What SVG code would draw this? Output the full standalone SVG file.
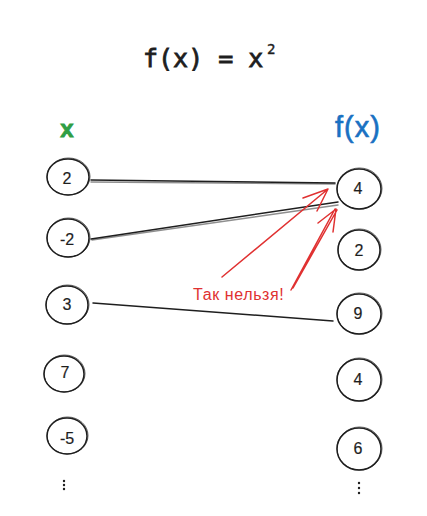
<svg xmlns="http://www.w3.org/2000/svg" width="427" height="516" viewBox="0 0 427 516">
<defs>
<style>
.c{fill:none;stroke:#1e1e1e;stroke-width:1.5}
.c2{fill:none;stroke:#1e1e1e;stroke-width:1;opacity:0.7}
.n{font-family:"Liberation Sans",Arial,sans-serif;font-size:16px;fill:#1e1e1e;stroke:#1e1e1e;stroke-width:0.2;text-anchor:middle;dominant-baseline:central}
.l{fill:none;stroke:#1e1e1e;stroke-width:1.5;stroke-linecap:round}
.r{fill:none;stroke:#e03131;stroke-width:1.5;stroke-linecap:round;stroke-linejoin:round}
.dot{fill:#1e1e1e}
</style>
</defs>
<rect width="427" height="516" fill="#ffffff"/>
<g id="title">
<text x="143" y="67" font-family="DejaVu Sans Mono,monospace" font-size="25" fill="#1e1e1e" stroke="#1e1e1e" stroke-width="0.8">f(x) = x</text>
<text x="267" y="54" font-family="DejaVu Sans Mono,monospace" font-size="14" fill="#1e1e1e" stroke="#1e1e1e" stroke-width="0.4">2</text>
</g>
<g id="label-x"><text x="67" y="128" font-family="Liberation Sans,Arial,sans-serif" font-size="24" fill="#2f9e44" stroke="#2f9e44" stroke-width="0.8" text-anchor="middle" dominant-baseline="central" font-weight="bold">x</text></g>
<g id="label-fx"><text x="358" y="127" font-family="Liberation Sans,Arial,sans-serif" font-size="29" fill="#1971c2" stroke="#1971c2" stroke-width="0.6" letter-spacing="1" text-anchor="middle" dominant-baseline="central">f(x)</text></g>
<g id="connectors">
<path class="l" d="M91 180 L335 183"/>
<path class="l" d="M91 182 L335 184" opacity="0.5"/>
<path class="l" d="M91 239 L338 202"/>
<path class="l" d="M92 240 L338 205" opacity="0.5"/>
<path class="l" d="M93 303 L333 321"/>
<path class="r" d="M222 277 L328 189 M303 198 L328 189 L317 211"/>
<path class="r" d="M291 290 L335 209 M293 288 L337 210 M318 223 L336 209 L333 232"/>
</g>
<g id="note"><text x="193" y="300" font-family="Liberation Sans,Arial,sans-serif" font-size="16" fill="#e03131" letter-spacing="0.6">Так нельзя!</text></g>
<g id="l2"><ellipse class="c" cx="68" cy="177" rx="21" ry="18"/><ellipse class="c2" cx="68.5" cy="176.5" rx="21.5" ry="18.5"/><text class="n" x="67" y="178">2</text></g>
<g id="lm2"><ellipse class="c" cx="68" cy="238" rx="21" ry="19"/><ellipse class="c2" cx="68.5" cy="237.5" rx="21.5" ry="19.5"/><text class="n" x="67" y="239">-2</text></g>
<g id="l3"><ellipse class="c" cx="67" cy="305" rx="21" ry="19"/><ellipse class="c2" cx="67.5" cy="304.5" rx="21.5" ry="19.5"/><text class="n" x="67" y="304">3</text></g>
<g id="l7"><ellipse class="c" cx="64" cy="374" rx="20" ry="18"/><ellipse class="c2" cx="64.5" cy="373.5" rx="20.5" ry="18.5"/><text class="n" x="65" y="372">7</text></g>
<g id="lm5"><ellipse class="c" cx="67" cy="436" rx="20" ry="18"/><ellipse class="c2" cx="67.5" cy="435.5" rx="20.5" ry="18.5"/><text class="n" x="67" y="438">-5</text></g>
<g id="ldots"><circle class="dot" cx="64" cy="481" r="1.2"/><circle class="dot" cx="64" cy="485" r="1.2"/><circle class="dot" cx="64" cy="489" r="1.2"/></g>
<g id="r4"><ellipse class="c" cx="359" cy="189" rx="22" ry="20"/><ellipse class="c2" cx="359.5" cy="188.5" rx="22.5" ry="20.5"/><text class="n" x="358" y="188">4</text></g>
<g id="r2"><ellipse class="c" cx="359" cy="250" rx="21" ry="20"/><ellipse class="c2" cx="359.5" cy="249.5" rx="21.5" ry="20.5"/><text class="n" x="359" y="250">2</text></g>
<g id="r9"><ellipse class="c" cx="359" cy="314" rx="22" ry="20"/><ellipse class="c2" cx="359.5" cy="313.5" rx="22.5" ry="20.5"/><text class="n" x="358" y="313">9</text></g>
<g id="r4b"><ellipse class="c" cx="359" cy="380" rx="22" ry="21"/><ellipse class="c2" cx="359.5" cy="379.5" rx="22.5" ry="21.5"/><text class="n" x="358" y="379">4</text></g>
<g id="r6"><ellipse class="c" cx="359" cy="449" rx="22" ry="21"/><ellipse class="c2" cx="359.5" cy="448.5" rx="22.5" ry="21.5"/><text class="n" x="358" y="448">6</text></g>
<g id="rdots"><circle class="dot" cx="359" cy="483" r="1.2"/><circle class="dot" cx="359" cy="488" r="1.2"/><circle class="dot" cx="359" cy="493" r="1.2"/></g>
</svg>
